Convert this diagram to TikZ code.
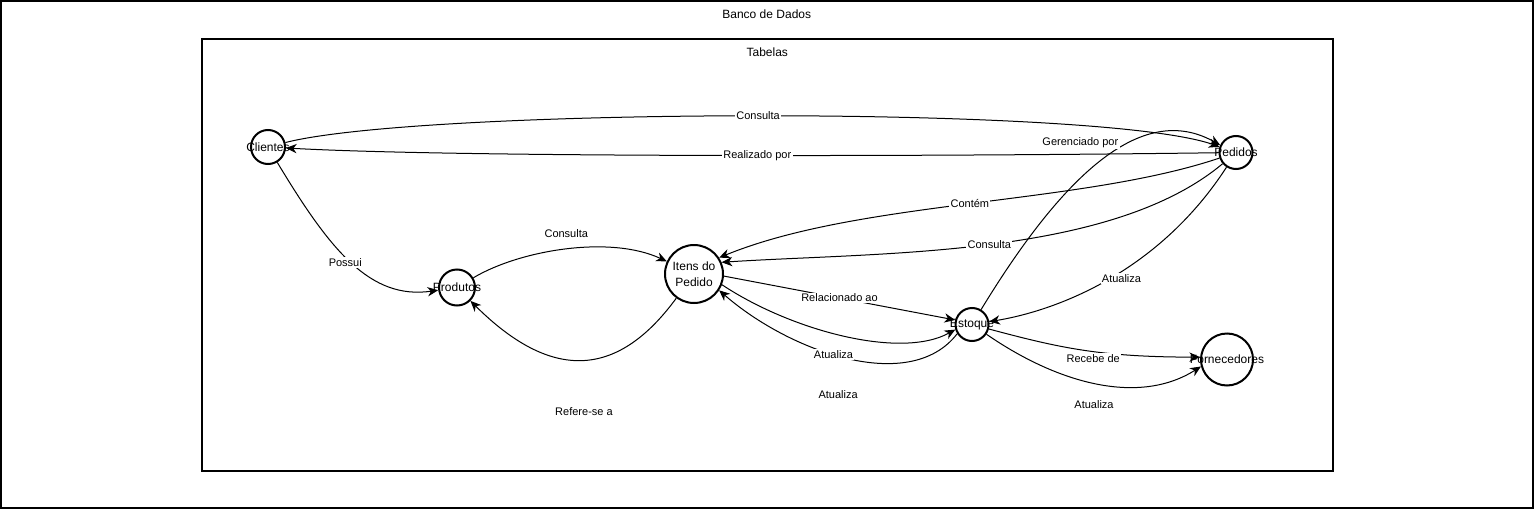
\documentclass[tikz,border=0pt]{standalone}
\usepackage{fontspec}
\setmainfont{Liberation Sans}
\usetikzlibrary{arrows.meta, positioning}

\begin{document}
\begin{tikzpicture}[x=0.75pt,y=-0.75pt]
\tikzstyle{moldura}=[draw=black,line width=1.5pt,inner sep=0pt]
\tikzstyle{titulo}=[font=\fontsize{9}{11}\selectfont]
\tikzstyle{tabela}=[circle,draw=black,line width=1.5pt,inner sep=0pt]
\tikzstyle{nome}=[font=\fontsize{9}{11.85}\selectfont,align=center]
\tikzstyle{rel}=[-{Stealth[length=8pt,width=7pt,inset=2.5pt]},line width=0.75pt]
\tikzstyle{rotulo}=[font=\fontsize{8.25}{10}\selectfont,fill=white,inner sep=1pt]

\useasboundingbox (0,0) rectangle (1534,510);

\node[moldura, minimum width=1148.6pt, minimum height=380.6pt] (bancodados) at (766.75,254.75) {};
\node[moldura, minimum width=848.6pt, minimum height=324pt] (tabelas) at (767.25,255) {};
\node[titulo, below = 10.5pt of bancodados.north, anchor=center] (bancodadostxt) {Banco de Dados};
\node[titulo, below = 10.5pt of tabelas.north, anchor=center] (tabelastxt) {Tabelas};

\node[tabela, minimum size=25.5pt] (clientes) at (268,147) {};
\node[tabela, minimum size=27pt] (produtos) at (457,287.5) {};
\node[tabela, minimum size=43.5pt] (itens) at (694,274) {};
\node[tabela, minimum size=24.75pt] (pedidos) at (1236,152.5) {};
\node[tabela, minimum size=24.75pt] (estoque) at (972,324.5) {};
\node[tabela, minimum size=39pt] (fornecedores) at (1227,359.5) {};

\node[nome] (clientesnome) at (clientes) {Clientes};
\node[nome] (produtosnome) at (produtos) {Produtos};
\node[nome] (itensnome) at (itens) {Itens do\\Pedido};
\node[nome] (pedidosnome) at (pedidos) {Pedidos};
\node[nome] (estoquenome) at (estoque) {Estoque};
\node[nome] (fornecedoresnome) at (fornecedores) {Fornecedores};

\draw[rel] (clientes) .. controls (420,108) and (1100,105) .. (pedidos) node[rotulo, pos=0.5] (c1) {Consulta};
\draw[rel] (pedidos) .. controls (900,157) and (450,157) .. (clientes) node[rotulo, pos=0.44] (c2) {Realizado por};
\draw[rel] (clientes) .. controls (330,250) and (370,300) .. (produtos) node[rotulo, pos=0.5, xshift=-5pt] (c3) {Possui};
\draw[rel] (produtos) .. controls (520,250) and (610,235) .. (itens) node[rotulo, pos=0.5, yshift=12pt] (c4) {Consulta};
\draw[rel] (itens) .. controls (620,375) and (555,385) .. (produtos) node[rotulo, pos=0.5, yshift=-39pt] (c5) {Refere-se a};
\draw[rel] (pedidos) .. controls (1080,205) and (860,200) .. (itens.33) node[rotulo, pos=0.5] (c6) {Contém};
\draw[rel] (pedidos) .. controls (1110,258) and (880,252) .. (itens.23) node[rotulo, pos=0.5] (c7) {Consulta};

\path
  (itens.-4) edge [rel] node[rotulo] (c8) {Relacionado ao} (estoque.165);

\draw[rel] (itens.-21) .. controls (790,330) and (900,360) .. (estoque.197) node[rotulo, pos=0.5, xshift=-4pt, yshift=-44pt] (c9) {Atualiza};
\draw[rel] (estoque.212) .. controls (910,395) and (790,352) .. (itens.-33) node[rotulo, pos=0.55] (c10) {Atualiza};
\draw[rel] (pedidos) .. controls (1160,270) and (1060,310) .. (estoque) node[rotulo, pos=0.5, xshift=9pt] (c11) {Atualiza};
\draw[rel] (estoque) .. controls (1060,180) and (1140,100) .. (pedidos.155) node[rotulo, pos=0.6, anchor=east, xshift=-3pt, yshift=3pt] (c12) {Gerenciado por};
\draw[rel] (estoque) .. controls (1060,348) and (1100,357) .. (fornecedores.175) node[rotulo, pos=0.55, yshift=-5pt] (c13) {Recebe de};
\draw[rel] (estoque.-34) .. controls (1060,385) and (1140,405) .. (fornecedores.195) node[rotulo, pos=0.48, yshift=-16.5pt] (c14) {Atualiza};
\end{tikzpicture}
\end{document}
